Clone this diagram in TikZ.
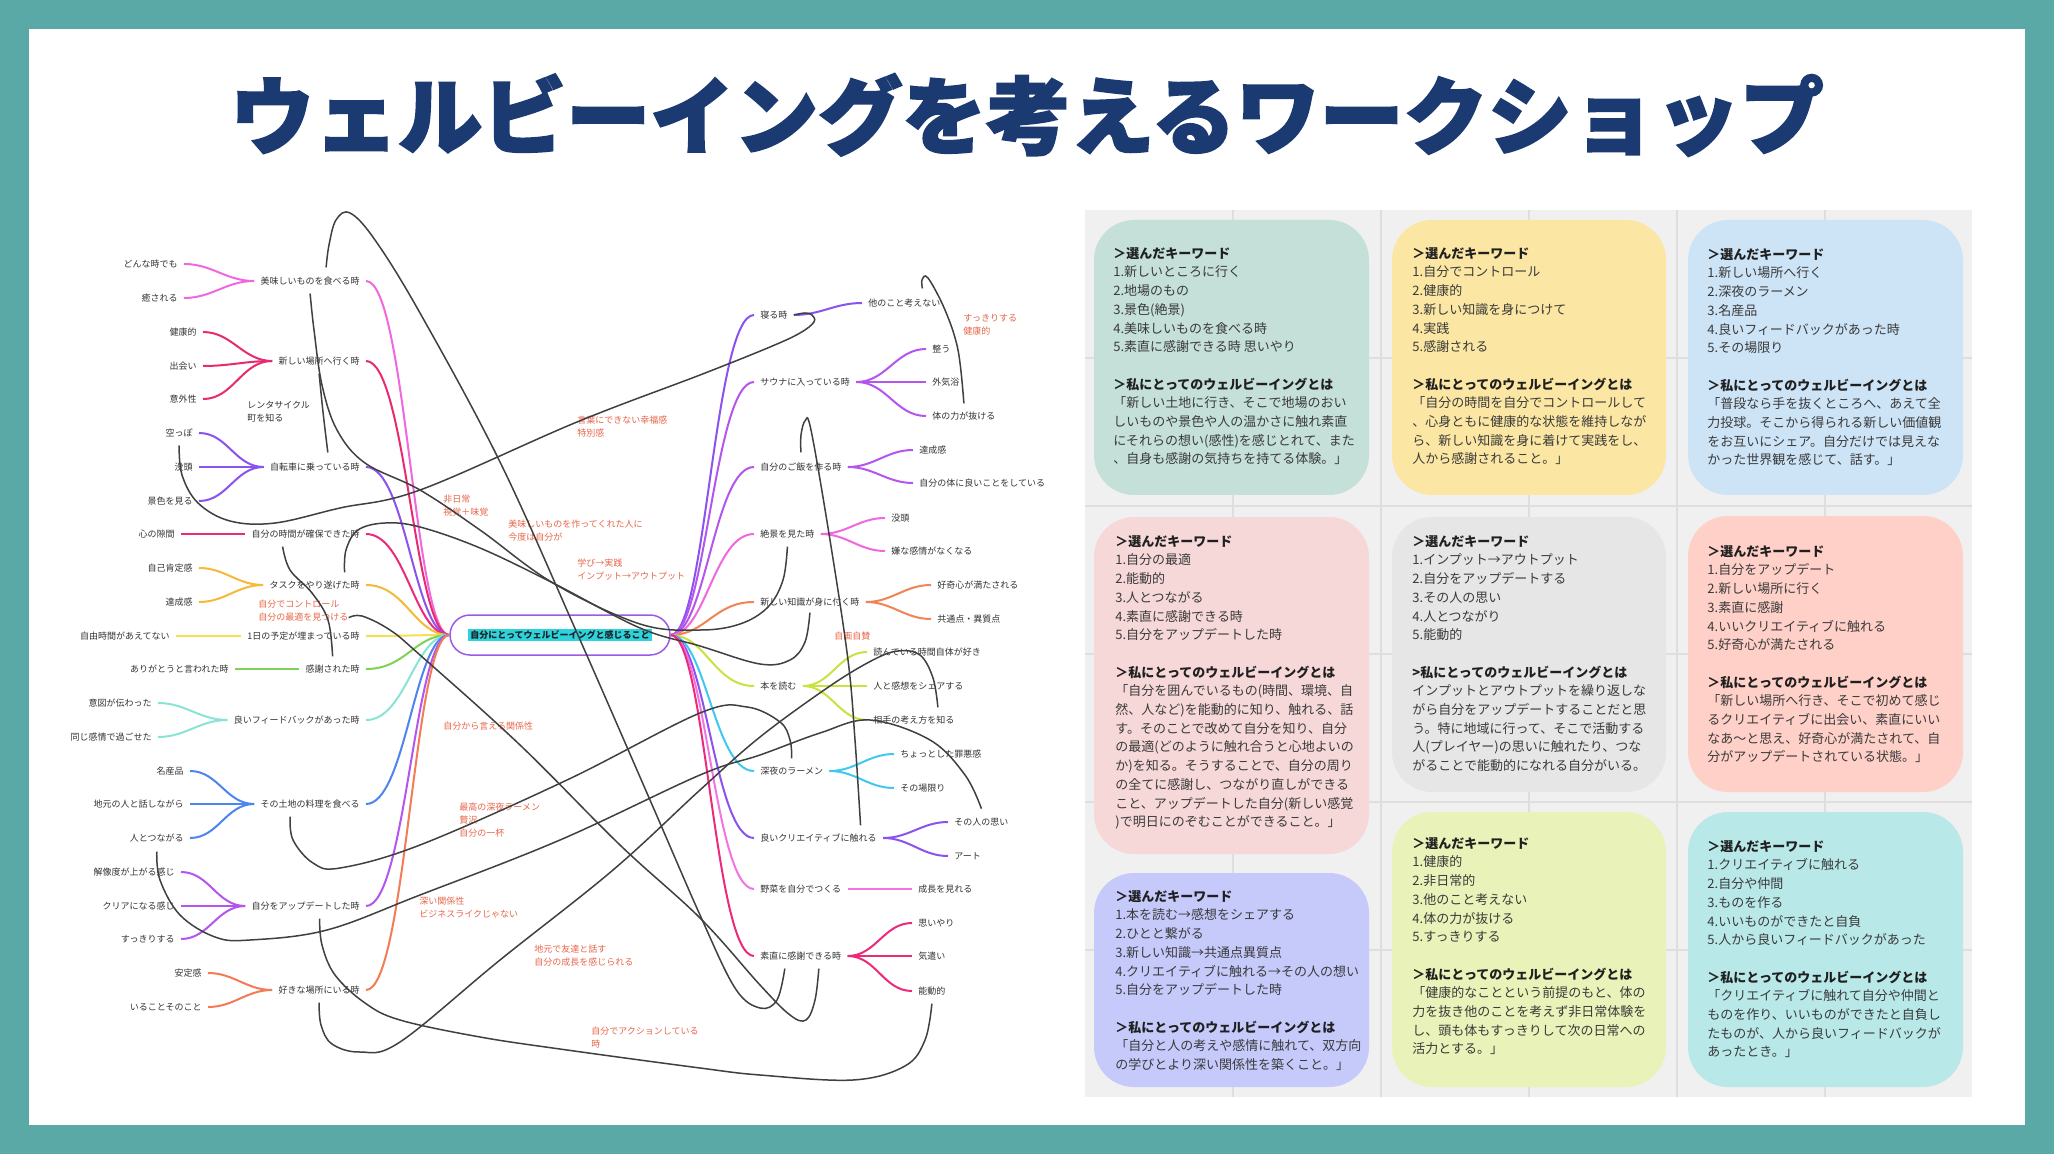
\documentclass[tikz,border=0pt]{standalone}
\usepackage{fontspec}
\setmainfont{Noto Sans CJK JP}
\newfontfamily\titlefont{Noto Sans CJK JP}[BoldFeatures={FakeBold=2.5}]
\definecolor{bgteal}{HTML}{5AA9A6}
\definecolor{titlec}{HTML}{1C3A72}
\definecolor{cardbg}{HTML}{F0F0F0}
\definecolor{gridc}{HTML}{DEDEDE}
\definecolor{cA}{HTML}{C4E0D9}
\definecolor{cB}{HTML}{FBE7A3}
\definecolor{cC}{HTML}{CDE4F7}
\definecolor{cD}{HTML}{F7D8D9}
\definecolor{cE}{HTML}{E6E6E6}
\definecolor{cF}{HTML}{FFD0C8}
\definecolor{cG}{HTML}{C5CAFB}
\definecolor{cH}{HTML}{E9F2B8}
\definecolor{cI}{HTML}{B9E8E9}
\definecolor{ink}{HTML}{333333}
\definecolor{cardink}{HTML}{3A3A3A}
\definecolor{headink}{HTML}{1F1F1F}
\definecolor{lblc}{HTML}{E8664A}
\definecolor{connc}{HTML}{404040}
\definecolor{bpink}{HTML}{F068DE}
\definecolor{bcrim}{HTML}{E82A70}
\definecolor{bpurp}{HTML}{8B52F0}
\definecolor{bdeep}{HTML}{EC2A7C}
\definecolor{borange}{HTML}{F4BA38}
\definecolor{byel}{HTML}{F5E052}
\definecolor{bgreen}{HTML}{80D255}
\definecolor{baqua}{HTML}{88E4D4}
\definecolor{bblue}{HTML}{4C84F0}
\definecolor{bviol}{HTML}{B455EE}
\definecolor{bred}{HTML}{F27B58}
\definecolor{bsalmon}{HTML}{F08454}
\definecolor{blime}{HTML}{C8E240}
\definecolor{bcyan}{HTML}{40C8F0}
\definecolor{bpinkb}{HTML}{F274E2}
\definecolor{cbox}{HTML}{9A5CE6}
\definecolor{chl}{HTML}{2CD3DD}
\newcommand{\cardhead}[1]{\textbf{\textcolor{headink}{#1}}}
\begin{document}
\begin{tikzpicture}[x=0.5pt,y=-0.5pt,
  mt/.style={font=\fontsize{4.5pt}{6.5pt}\selectfont, text=ink, inner xsep=3pt, inner ysep=1pt},
  lbl/.style={font=\fontsize{4.5pt}{6.5pt}\selectfont, text=lblc, align=left, anchor=north west, inner sep=0pt},
  graylbl/.style={lbl, text=ink},
  br/.style={line width=1pt},
  conn/.style={draw=connc, line width=0.75pt},
  cardtxt/.style={font=\fontsize{6.5pt}{9.35pt}\selectfont, text=cardink, align=left, anchor=north west, inner sep=0pt},
  cardbox/.style={rounded corners=20pt}
]
\useasboundingbox (0,0) rectangle (2054,1154);
\fill[bgteal] (0,0) rectangle (2054,1154);
\fill[white] (29,29) rectangle (2025,1125);

% title
\node[font=\titlefont\bfseries\fontsize{42pt}{46pt}\selectfont, text=titlec, inner sep=0pt] (title) at (1027,115) {ウェルビーイングを考えるワークショップ};

% ---------- cards ----------
\fill[cardbg] (1085,210) rectangle (1972,1097);
\foreach \i in {1,...,5} {
  \draw[gridc, line width=1pt] (1085+148*\i,210) -- (1085+148*\i,1097);
  \draw[gridc, line width=1pt] (1085,210+148*\i) -- (1972,210+148*\i);
}
\fill[cA, cardbox] (1094,220) rectangle (1369,495);
\fill[cB, cardbox] (1392,220) rectangle (1666,495);
\fill[cC, cardbox] (1688,220) rectangle (1963,495);
\fill[cD, cardbox] (1094,517) rectangle (1369,854);
\fill[cE, cardbox] (1392,517) rectangle (1666,792);
\fill[cF, cardbox] (1688,516) rectangle (1963,792);
\fill[cG, cardbox] (1094,873) rectangle (1369,1087);
\fill[cH, cardbox] (1392,812) rectangle (1666,1087);
\fill[cI, cardbox] (1688,812) rectangle (1963,1087);

\node[cardtxt] (k1) at (1113,247) {\cardhead{＞選んだキーワード}\\
1.新しいところに行く\\
2.地場のもの\\
3.景色(絶景)\\
4.美味しいものを食べる時\\
5.素直に感謝できる時 思いやり\\[9.35pt]
\cardhead{＞私にとってのウェルビーイングとは}\\
「新しい土地に行き、そこで地場のおい\\
しいものや景色や人の温かさに触れ素直\\
にそれらの想い(感性)を感じとれて、また\\
、自身も感謝の気持ちを持てる体験。」};

\node[cardtxt] (k2) at (1412,247) {\cardhead{＞選んだキーワード}\\
1.自分でコントロール\\
2.健康的\\
3.新しい知識を身につけて\\
4.実践\\
5.感謝される\\[9.35pt]
\cardhead{＞私にとってのウェルビーイングとは}\\
「自分の時間を自分でコントロールして\\
、心身ともに健康的な状態を維持しなが\\
ら、新しい知識を身に着けて実践をし、\\
人から感謝されること。」};

\node[cardtxt] (k3) at (1707,248) {\cardhead{＞選んだキーワード}\\
1.新しい場所へ行く\\
2.深夜のラーメン\\
3.名産品\\
4.良いフィードバックがあった時\\
5.その場限り\\[9.35pt]
\cardhead{＞私にとってのウェルビーイングとは}\\
「普段なら手を抜くところへ、あえて全\\
力投球。そこから得られる新しい価値観\\
をお互いにシェア。自分だけでは見えな\\
かった世界観を感じて、話す。」};

\node[cardtxt] (k4) at (1115,535) {\cardhead{＞選んだキーワード}\\
1.自分の最適\\
2.能動的\\
3.人とつながる\\
4.素直に感謝できる時\\
5.自分をアップデートした時\\[9.35pt]
\cardhead{＞私にとってのウェルビーイングとは}\\
「自分を囲んでいるもの(時間、環境、自\\
然、人など)を能動的に知り、触れる、話\\
す。そのことで改めて自分を知り、自分\\
の最適(どのように触れ合うと心地よいの\\
か)を知る。そうすることで、自分の周り\\
の全てに感謝し、つながり直しができる\\
こと、アップデートした自分(新しい感覚\\
)で明日にのぞむことができること。」};

\node[cardtxt] (k5) at (1412,535) {\cardhead{＞選んだキーワード}\\
1.インプット→アウトプット\\
2.自分をアップデートする\\
3.その人の思い\\
4.人とつながり\\
5.能動的\\[9.35pt]
\cardhead{>私にとってのウェルビーイングとは}\\
インプットとアウトプットを繰り返しな\\
がら自分をアップデートすることだと思\\
う。特に地域に行って、そこで活動する\\
人(プレイヤー)の思いに触れたり、つな\\
がることで能動的になれる自分がいる。};

\node[cardtxt] (k6) at (1707,545) {\cardhead{＞選んだキーワード}\\
1.自分をアップデート\\
2.新しい場所に行く\\
3.素直に感謝\\
4.いいクリエイティブに触れる\\
5.好奇心が満たされる\\[9.35pt]
\cardhead{＞私にとってのウェルビーイングとは}\\
「新しい場所へ行き、そこで初めて感じ\\
るクリエイティブに出会い、素直にいい\\
なあ〜と思え、好奇心が満たされて、自\\
分がアップデートされている状態。」};

\node[cardtxt] (k7) at (1115,890) {\cardhead{＞選んだキーワード}\\
1.本を読む→感想をシェアする\\
2.ひとと繋がる\\
3.新しい知識→共通点異質点\\
4.クリエイティブに触れる→その人の想い\\
5.自分をアップデートした時\\[9.35pt]
\cardhead{＞私にとってのウェルビーイングとは}\\
「自分と人の考えや感情に触れて、双方向\\
の学びとより深い関係性を築くこと。」};

\node[cardtxt] (k8) at (1412,837) {\cardhead{＞選んだキーワード}\\
1.健康的\\
2.非日常的\\
3.他のこと考えない\\
4.体の力が抜ける\\
5.すっきりする\\[9.35pt]
\cardhead{＞私にとってのウェルビーイングとは}\\
「健康的なことという前提のもと、体の\\
力を抜き他のことを考えず非日常体験を\\
し、頭も体もすっきりして次の日常への\\
活力とする。」};

\node[cardtxt] (k9) at (1707,840) {\cardhead{＞選んだキーワード}\\
1.クリエイティブに触れる\\
2.自分や仲間\\
3.ものを作る\\
4.いいものができたと自負\\
5.人から良いフィードバックがあった\\[9.35pt]
\cardhead{＞私にとってのウェルビーイングとは}\\
「クリエイティブに触れて自分や仲間と\\
ものを作り、いいものができたと自負し\\
たものが、人から良いフィードバックが\\
あったとき。」};

% ---------- mind map nodes ----------
\node[draw=cbox, line width=0.75pt, rounded corners=10pt, minimum width=110pt, minimum height=20pt, inner sep=0pt,
  font=\fontsize{4.5pt}{5.5pt}\selectfont\bfseries, text=headink] (ctr) at (560,635)
  {\setlength{\fboxsep}{1pt}\colorbox{chl}{自分にとってウェルビーイングと感じること}};

\node[mt,anchor=east] (lp1) at (366,281) {美味しいものを食べる時};
\node[mt,anchor=east] (lp2) at (366,361) {新しい場所へ行く時};
\node[mt,anchor=east] (lp3) at (366,467) {自転車に乗っている時};
\node[mt,anchor=east] (lp4) at (366,534) {自分の時間が確保できた時};
\node[mt,anchor=east] (lp5) at (366,585) {タスクをやり遂げた時};
\node[mt,anchor=east] (lp6) at (366,636) {1日の予定が埋まっている時};
\node[mt,anchor=east] (lp7) at (366,669) {感謝された時};
\node[mt,anchor=east] (lp8) at (366,720) {良いフィードバックがあった時};
\node[mt,anchor=east] (lp9) at (366,804) {その土地の料理を食べる};
\node[mt,anchor=east] (lp10) at (366,906) {自分をアップデートした時};
\node[mt,anchor=east] (lp11) at (366,990) {好きな場所にいる時};

\node[mt,anchor=east] (lp1a) at (184,264) {どんな時でも};
\node[mt,anchor=east] (lp1b) at (184,298) {癒される};
\node[mt,anchor=east] (lp2a) at (203,332) {健康的};
\node[mt,anchor=east] (lp2b) at (203,366) {出会い};
\node[mt,anchor=east] (lp2c) at (203,399) {意外性};
\node[mt,anchor=east] (lp3a) at (199,433) {空っぽ};
\node[mt,anchor=east] (lp3b) at (199,467) {没頭};
\node[mt,anchor=east] (lp3c) at (199,501) {景色を見る};
\node[mt,anchor=east] (lp4a) at (181,534) {心の隙間};
\node[mt,anchor=east] (lp5a) at (199,568) {自己肯定感};
\node[mt,anchor=east] (lp5b) at (199,602) {達成感};
\node[mt,anchor=east] (lp6a) at (176,636) {自由時間があえてない};
\node[mt,anchor=east] (lp7a) at (235,669) {ありがとうと言われた時};
\node[mt,anchor=east] (lp8a) at (158,703) {意図が伝わった};
\node[mt,anchor=east] (lp8b) at (158,737) {同じ感情で過ごせた};
\node[mt,anchor=east] (lp9a) at (190,771) {名産品};
\node[mt,anchor=east] (lp9b) at (190,804) {地元の人と話しながら};
\node[mt,anchor=east] (lp9c) at (190,838) {人とつながる};
\node[mt,anchor=east] (lp10a) at (181,872) {解像度が上がる感じ};
\node[mt,anchor=east] (lp10b) at (181,906) {クリアになる感じ};
\node[mt,anchor=east] (lp10c) at (181,939) {すっきりする};
\node[mt,anchor=east] (lp11a) at (208,973) {安定感};
\node[mt,anchor=east] (lp11b) at (208,1007) {いることそのこと};

\node[mt,anchor=west] (rp1) at (754,315) {寝る時};
\node[mt,anchor=west] (rp2) at (754,382) {サウナに入っている時};
\node[mt,anchor=west] (rp3) at (754,467) {自分のご飯を作る時};
\node[mt,anchor=west] (rp4) at (754,534) {絶景を見た時};
\node[mt,anchor=west] (rp5) at (754,602) {新しい知識が身に付く時};
\node[mt,anchor=west] (rp6) at (754,686) {本を読む};
\node[mt,anchor=west] (rp7) at (754,771) {深夜のラーメン};
\node[mt,anchor=west] (rp8) at (754,838) {良いクリエイティブに触れる};
\node[mt,anchor=west] (rp9) at (754,889) {野菜を自分でつくる};
\node[mt,anchor=west] (rp10) at (754,956) {素直に感謝できる時};

\node[mt,anchor=west] (rp1a) at (862,303) {他のこと考えない};
\node[mt,anchor=west] (rp2a) at (926,349) {整う};
\node[mt,anchor=west] (rp2b) at (926,382) {外気浴};
\node[mt,anchor=west] (rp2c) at (926,416) {体の力が抜ける};
\node[mt,anchor=west] (rp3a) at (913,450) {達成感};
\node[mt,anchor=west] (rp3b) at (913,483) {自分の体に良いことをしている};
\node[mt,anchor=west] (rp4a) at (885,518) {没頭};
\node[mt,anchor=west] (rp4b) at (885,551) {嫌な感情がなくなる};
\node[mt,anchor=west] (rp5a) at (931,585) {好奇心が満たされる};
\node[mt,anchor=west] (rp5b) at (931,619) {共通点・異質点};
\node[mt,anchor=west] (rp6a) at (867,652) {読んでいる時間自体が好き};
\node[mt,anchor=west] (rp6b) at (867,686) {人と感想をシェアする};
\node[mt,anchor=west] (rp6c) at (867,720) {相手の考え方を知る};
\node[mt,anchor=west] (rp7a) at (894,754) {ちょっとした罪悪感};
\node[mt,anchor=west] (rp7b) at (894,788) {その場限り};
\node[mt,anchor=west] (rp8a) at (948,822) {その人の思い};
\node[mt,anchor=west] (rp8b) at (948,856) {アート};
\node[mt,anchor=west] (rp9a) at (912,889) {成長を見れる};
\node[mt,anchor=west] (rp10a) at (912,923) {思いやり};
\node[mt,anchor=west] (rp10b) at (912,956) {気遣い};
\node[mt,anchor=west] (rp10c) at (912,991) {能動的};

% labels
\node[lbl] (L1) at (577,415.5) {言葉にできない幸福感\\特別感};
\node[lbl] (L2) at (443,494.5) {非日常\\視覚＋味覚};
\node[lbl] (L3) at (508,519.5) {美味しいものを作ってくれた人に\\今度は自分が};
\node[lbl] (L4) at (577,558.5) {学び→実践\\インプット→アウトプット};
\node[lbl] (L5) at (258,599.5) {自分でコントロール\\自分の最適を見つける};
\node[lbl] (L6) at (443,721.5) {自分から言える関係性};
\node[lbl] (L7) at (459,802.5) {最高の深夜ラーメン\\贅沢\\自分の一杯};
\node[lbl] (L8) at (419,896.5) {深い関係性\\ビジネスライクじゃない};
\node[lbl] (L9) at (534,944.5) {地元で友達と話す\\自分の成長を感じられる};
\node[lbl] (L10) at (591,1026.5) {自分でアクションしている\\時};
\node[lbl] (L11) at (963,313.5) {すっきりする\\健康的};
\node[lbl] (L12) at (834,631.5) {自画自賛};
\node[graylbl] (LG) at (247,400.5) {レンタサイクル\\町を知る};

% ---------- colored branches: left ----------
\foreach \p/\c in {lp1/bpink,lp2/bcrim,lp3/bpurp,lp4/bdeep,lp5/borange,lp6/byel,lp7/bgreen,lp8/baqua,lp9/bblue,lp10/bviol,lp11/bred} {
  \draw[br, draw=\c] (\p.east) .. controls +(40,0) and +(-35,0) .. (ctr.west);
}
\foreach \k/\p/\c in {lp1a/lp1/bpink,lp1b/lp1/bpink,lp2a/lp2/bcrim,lp2b/lp2/bcrim,lp2c/lp2/bcrim,
  lp3a/lp3/bpurp,lp3b/lp3/bpurp,lp3c/lp3/bpurp,lp4a/lp4/bdeep,lp5a/lp5/borange,lp5b/lp5/borange,
  lp6a/lp6/byel,lp7a/lp7/bgreen,lp8a/lp8/baqua,lp8b/lp8/baqua,lp9a/lp9/bblue,lp9b/lp9/bblue,lp9c/lp9/bblue,
  lp10a/lp10/bviol,lp10b/lp10/bviol,lp10c/lp10/bviol,lp11a/lp11/bred,lp11b/lp11/bred} {
  \draw[br, draw=\c] (\k.east) to[out=0,in=180] (\p.west);
}
% ---------- colored branches: right ----------
\foreach \p/\c in {rp1/bpurp,rp2/bviol,rp3/bviol,rp4/bpink,rp5/bsalmon,rp6/blime,rp7/bcyan,rp8/bpurp,rp9/bpinkb,rp10/bdeep} {
  \draw[br, draw=\c] (ctr.east) .. controls +(35,0) and +(-40,0) .. (\p.west);
}
\foreach \k/\p/\c in {rp1a/rp1/bpurp,rp2a/rp2/bviol,rp2b/rp2/bviol,rp2c/rp2/bviol,rp3a/rp3/bviol,rp3b/rp3/bviol,
  rp4a/rp4/bpink,rp4b/rp4/bpink,rp5a/rp5/bsalmon,rp5b/rp5/bsalmon,rp6a/rp6/blime,rp6b/rp6/blime,rp6c/rp6/blime,
  rp7a/rp7/bcyan,rp7b/rp7/bcyan,rp8a/rp8/bpurp,rp8b/rp8/bpurp,rp9a/rp9/bpinkb,
  rp10a/rp10/bdeep,rp10b/rp10/bdeep,rp10c/rp10/bdeep} {
  \draw[br, draw=\c] (\p.east) to[out=0,in=180] (\k.west);
}

% ---------- dark connectors ----------
\draw[conn] plot[smooth, tension=0.6] coordinates {([xshift=8pt,yshift=3.5pt]lp1.north) (329,245) (336,220) (350,213) (375,240) (420,313) (500,462) (577,633) (650,800) (700,915) (735,988) (760,1008) (777,1000) ([xshift=-8pt,yshift=-3pt]rp10.south)};
\draw[conn] plot[smooth, tension=0.6] coordinates {([yshift=-3pt]lp1.south) (314,330) (322,385) (337,430) (365,463) (420,490) (480,530) (553,583) (640,624) (700,630) (740,624) (768,607) (783,580) ([yshift=-3pt]rp4.south)};
\draw[conn] plot[smooth, tension=0.6] coordinates {([yshift=-3pt]lp3a.south) (182,475) (198,503) (230,521) (275,523) (340,508) (420,490) (577,422) (700,375) (770,347) (800,333) (814,322) (812,315) (805,313) (rp1.east)};
\draw[conn] plot[smooth, tension=0.6] coordinates {([yshift=-3pt]lp2.south) (323,412) ([xshift=6.5pt,yshift=4pt]lp3.north)};
\draw[conn] plot[smooth, tension=0.6] coordinates {([xshift=15pt,yshift=3pt]lp5.north) (346,550) (358,530) (385,523) (420,527) (480,548) (553,583) (640,628) (700,646) (760,664) (790,660) (805,642) ([yshift=-2pt]rp5.south)};
\draw[conn] plot[smooth, tension=0.6] coordinates {([xshift=-11.5pt,yshift=-3pt]lp4.south) (290,570) (312,593) (328,620) ([yshift=3pt]lp7.north)};
\draw[conn] plot[smooth, tension=0.6] coordinates {([yshift=2pt]L5.south east) (362,616) (390,630) (420,655) (520,745) (620,845) (700,918) (760,985) (790,1015) (806,1020) (815,1000) ([xshift=9pt,yshift=-3pt]rp10.south)};
\draw[conn] plot[smooth, tension=0.6] coordinates {([yshift=-3pt]lp11.south) (321,1025) (332,1044) (360,1052) (400,1042) (500,960) (613,870) (700,790) (760,737) (830,686) (873,660) (898,651) (920,655) (933,678) ([xshift=12pt,yshift=3pt]rp6c.north)};
\draw[conn] plot[smooth, tension=0.6] coordinates {([xshift=7pt,yshift=-3pt]lp10.south) (322,945) (335,975) (365,1003) (400,1020) (480,1037) (567,1050) (700,1068) (760,1075) (853,1080) (905,1066) (925,1040) ([yshift=-3pt]rp10c.south)};
\draw[conn] plot[smooth, tension=0.6] coordinates {([yshift=-3.5pt]lp9c.south) (160,880) (180,915) (215,937) (250,940) (327,930) (420,895) (560,840) (700,775) (760,755) (820,733) (870,720) (930,740) (965,775) ([yshift=3.5pt]rp8a.north)};
\draw[conn] plot[smooth, tension=0.6] coordinates {([xshift=-10pt,yshift=-3pt]lp9.south) (293,840) (313,863) (340,868) (420,845) (567,780) (700,713) (747,707) (780,722) (790,740) ([yshift=3pt]rp7.north)};
\draw[conn] plot[smooth, tension=0.6] coordinates {([xshift=9pt,yshift=4pt]rp1a.north) (922,280) (928,278) (945,310) (958,350) ([yshift=3pt]rp2c.north)};
\draw[conn] plot[smooth, tension=0.6] coordinates {([yshift=4pt]rp3.north) (801,435) (805,421) (811,430) (830,540) (848,660) (855,740) ([xshift=21pt,yshift=3pt]rp8.north)};
\end{tikzpicture}
\end{document}
